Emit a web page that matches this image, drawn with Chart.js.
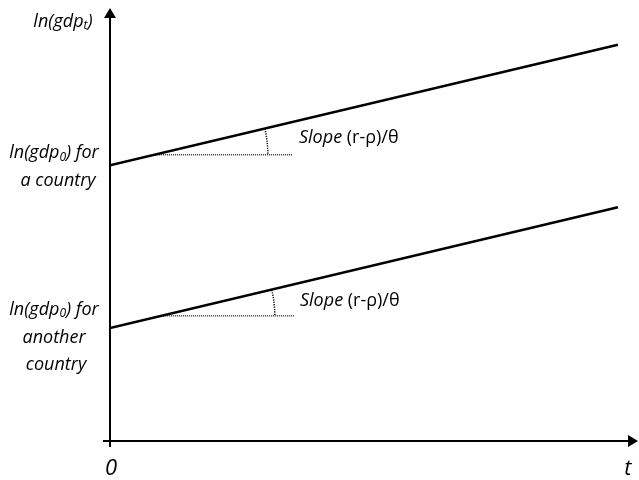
<!DOCTYPE html>
<html>
<head>
<meta charset="utf-8">
<script src="https://cdn.jsdelivr.net/npm/chart.js@4"></script>
<style>
  html, body { margin: 0; padding: 0; background: #fff; }
  #wrap { width: 639px; height: 480px; }
</style>
</head>
<body>
<div id="wrap"><canvas id="myChart" width="639" height="480"></canvas></div>
<script>
// line endpoints (time, ln gdp) in chart units
const timeVals = [0, 96.2]
const upperCountry = [63.7, 91.5]
const lowerCountry = [26.1, 54.0]
// dotted horizontal reference for the slope angle
const upperRefX = [8.5, 34.5]
const upperRefY = [66.1, 66.1]
const lowerRefX = [10, 35]
const lowerRefY = [28.9, 28.9]
const slopeLabel = ['Slope', ' (r-\u03C1)/\u03B8']

const pts = (xs, ys) => xs.map((x, i) => ({ x: x, y: ys[i] }))
const FONT = '"Open Sans"'

// draws axes with arrows, slope arcs and all the text
const sketchPlugin = {
  id: 'sketch',
  afterDatasetsDraw(chart) {
    const ctx = chart.ctx
    const xs = chart.scales.x, ys = chart.scales.y
    const x0 = xs.getPixelForValue(0), y0 = ys.getPixelForValue(0)
    const xEnd = xs.getPixelForValue(100), yTop = ys.getPixelForValue(100)
    ctx.save()
    ctx.strokeStyle = '#000'
    ctx.fillStyle = '#000'
    ctx.lineWidth = 2
    // axes
    ctx.beginPath()
    ctx.moveTo(x0, y0 + 6); ctx.lineTo(x0, yTop + 8)
    ctx.moveTo(x0 - 7, y0); ctx.lineTo(xEnd - 8, y0)
    ctx.stroke()
    ctx.beginPath()
    ctx.moveTo(x0, yTop); ctx.lineTo(x0 - 6, yTop + 10); ctx.lineTo(x0 + 6, yTop + 10); ctx.closePath()
    ctx.moveTo(xEnd, y0); ctx.lineTo(xEnd - 10, y0 - 6); ctx.lineTo(xEnd - 10, y0 + 6); ctx.closePath()
    ctx.fill()

    // dotted arcs showing the slope angle
    const arcs = [[upperRefX, upperRefY, upperCountry, 113], [lowerRefX, lowerRefY, lowerCountry, 112]]
    ctx.lineWidth = 1.5
    ctx.setLineDash([1.2, 1.2])
    arcs.forEach(a => {
      const cx = xs.getPixelForValue(a[0][0]), cy = ys.getPixelForValue(a[1][0])
      const dx = xs.getPixelForValue(timeVals[1]) - xs.getPixelForValue(timeVals[0])
      const dy = ys.getPixelForValue(a[2][0]) - ys.getPixelForValue(a[2][1])
      const ang = Math.atan2(dy, dx)
      ctx.beginPath()
      ctx.arc(cx, cy, a[3], -ang, 0)
      ctx.stroke()
    })
    ctx.setLineDash([])

    // slope labels
    ctx.textBaseline = 'middle'
    ctx.textAlign = 'left'
    const slopeYs = [[299, upperRefY[0], -17], [300, lowerRefY[0], -15]]
    slopeYs.forEach(s => {
      const py = ys.getPixelForValue(s[1]) + s[2]
      ctx.font = 'italic 18px ' + FONT
      ctx.fillText(slopeLabel[0], s[0], py)
      const w = ctx.measureText(slopeLabel[0]).width
      ctx.font = '18px ' + FONT
      ctx.fillText(slopeLabel[1], s[0] + w, py)
    })

    // y axis labels
    ctx.textAlign = 'left'
    const sub = (parts, cx, cy) => {
      // parts: [main, subscript, tail]
      ctx.font = 'italic 18px ' + FONT
      const w1 = ctx.measureText(parts[0]).width
      ctx.font = 'italic 12px ' + FONT
      const w2 = ctx.measureText(parts[1]).width
      ctx.font = 'italic 18px ' + FONT
      const w3 = ctx.measureText(parts[2]).width
      let x = cx - (w1 + w2 + w3) / 2
      ctx.fillText(parts[0], x, cy)
      ctx.font = 'italic 12px ' + FONT
      ctx.fillText(parts[1], x + w1, cy + 4)
      ctx.font = 'italic 18px ' + FONT
      ctx.fillText(parts[2], x + w1 + w2, cy)
    }
    sub(['ln(gdp', 't', ')'], 63, 22)
    const upY = ys.getPixelForValue(upperCountry[0])
    const loY = ys.getPixelForValue(lowerCountry[0])
    sub(['ln(gdp', '0', ') for'], 54, upY - 12)
    ctx.textAlign = 'center'
    ctx.font = 'italic 18px ' + FONT
    ctx.fillText('a country', 58, upY + 16)
    ctx.textAlign = 'left'
    sub(['ln(gdp', '0', ') for'], 54, loY - 18)
    ctx.textAlign = 'center'
    ctx.font = 'italic 18px ' + FONT
    ctx.fillText('another', 54, loY + 10)
    ctx.fillText('country', 56, loY + 37)

    // axis end labels
    ctx.font = 'italic 22px ' + FONT
    ctx.fillText('0', x0 + 1, y0 + 28)
    ctx.fillText('t', xEnd - 10, y0 + 28)
    ctx.restore()
  }
}

const ctx = document.getElementById('myChart')
// eslint-disable-next-line no-unused-vars
const myChart = new Chart(ctx, {
  type: 'scatter',
  data: {
    datasets: [{
      data: pts(timeVals, upperCountry),
      showLine: true,
      borderColor: '#000',
      borderWidth: 2.5,
      pointRadius: 0
    }, {
      data: pts(timeVals, lowerCountry),
      showLine: true,
      borderColor: '#000',
      borderWidth: 2.5,
      pointRadius: 0
    }, {
      data: pts(upperRefX, upperRefY),
      showLine: true,
      borderColor: '#000',
      borderWidth: 1.2,
      borderDash: [1, 1],
      pointRadius: 0
    }, {
      data: pts(lowerRefX, lowerRefY),
      showLine: true,
      borderColor: '#000',
      borderWidth: 1.2,
      borderDash: [1, 1],
      pointRadius: 0
    }]
  },
  options: {
    responsive: false,
    animation: false,
    layout: { padding: { left: 110, top: 8, right: 1, bottom: 39 } },
    scales: {
      x: { type: 'linear', min: 0, max: 100, display: false },
      y: { type: 'linear', min: 0, max: 100, display: false }
    },
    plugins: {
      legend: { display: false },
      tooltip: { enabled: false }
    }
  },
  plugins: [sketchPlugin]
})
</script>
</body>
</html>
